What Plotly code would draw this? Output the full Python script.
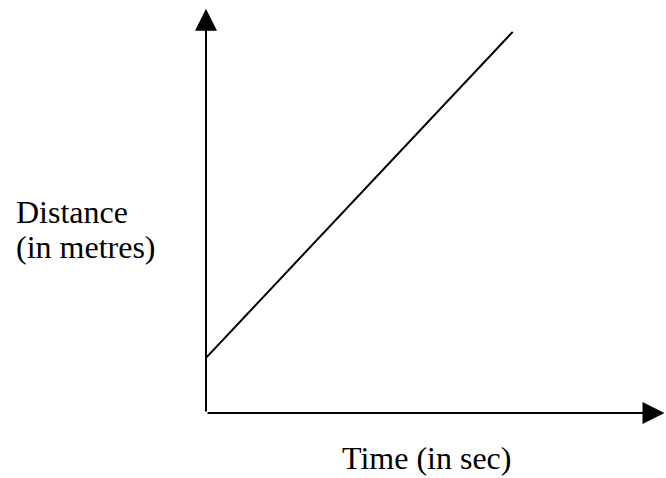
import plotly.graph_objects as go

# distance-time line (arbitrary units)
time = [0, 10]
distance = [1.75, 12.1]

# axis extents (where the arrow tips sit)
x_axis_end = 14.95
y_axis_end = 12.83

x_label = 'Time (in sec)'
y_label = ['Distance', '(in metres)']

W, H = 666, 478

fig = go.Figure()

fig.add_trace(go.Scatter(x=time, y=distance, mode='lines',
                         line=dict(color='black', width=2),
                         hoverinfo='skip'))

# axes drawn as arrows from the origin
arrow = dict(showarrow=True, text='', arrowhead=2, arrowsize=2.2,
             arrowwidth=2, arrowcolor='black',
             xref='x', yref='y', axref='x', ayref='y', ax=0, ay=0)

label_font = dict(family='Liberation Serif', size=32, color='black')

fig.update_layout(
    width=W, height=H,
    margin=dict(l=0, r=0, t=0, b=0),
    paper_bgcolor='white', plot_bgcolor='white',
    showlegend=False,
    xaxis=dict(range=[-206 / 30.67, 460 / 30.67], visible=False, fixedrange=True),
    yaxis=dict(range=[-65 / 31.5, 413 / 31.5], visible=False, fixedrange=True),
    annotations=[
        dict(arrow, x=x_axis_end, y=0),
        dict(arrow, x=0, y=y_axis_end),
        dict(text=y_label[0], x=14 / W, y=1 - 212 / H, xref='paper', yref='paper',
             xanchor='left', yanchor='middle', showarrow=False, font=label_font),
        dict(text=y_label[1], x=14 / W, y=1 - 247 / H, xref='paper', yref='paper',
             xanchor='left', yanchor='middle', showarrow=False, font=label_font),
        dict(text=x_label, x=426 / W, y=1 - 458 / H, xref='paper', yref='paper',
             xanchor='center', yanchor='middle', showarrow=False, font=label_font),
    ],
)

# drop the default 8px body margin so the figure fills the window
fig.write_html('out.html', config=dict(displayModeBar=False),
               post_script="document.body.style.margin = '0';")
